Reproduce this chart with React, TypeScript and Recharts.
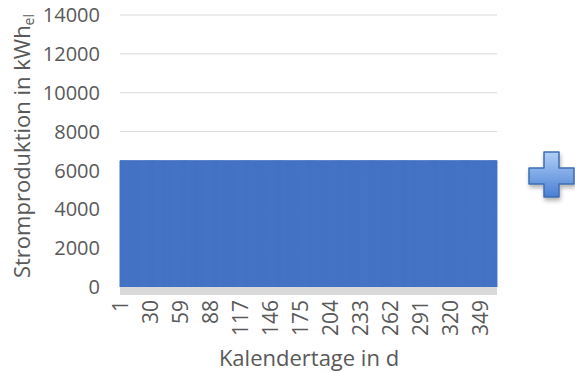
import React from 'react';
import { BarChart, Bar, XAxis, YAxis, CartesianGrid } from 'recharts';

// Daily electricity output over one calendar year (flat production level)
const dayCount = 365;
const dailyOutputKWh = 6500;
const calendarDays: number[] = Array.from({ length: dayCount }, (_, i) => i + 1);
const dayTicks: number[] = [1, 30, 59, 88, 117, 146, 175, 204, 233, 262, 291, 320, 349];
const outputTicks: number[] = [0, 2000, 4000, 6000, 8000, 10000, 12000, 14000];

const chartData = calendarDays.map((day) => ({ day, output: dailyOutputKWh }));

const FONT = '"Open Sans", "DejaVu Sans", sans-serif';
const TEXT = '#595959';
const BAR = '#4472c4';

const DayTick = (props: any) => {
  const { x, y, payload } = props;
  const ty = y + 11;
  return (
    <text
      x={x}
      y={ty}
      transform={`rotate(-90 ${x} ${ty})`}
      textAnchor="end"
      dy="0.36em"
      fill={TEXT}
      fontSize={21}
      fontFamily={FONT}
    >
      {payload.value}
    </text>
  );
};

export default function App() {
  return (
    <div style={{ position: 'absolute', left: 0, top: 0, width: 575, height: 373, background: '#fff' }}>
      <BarChart
        width={575}
        height={373}
        data={chartData}
        margin={{ top: 15, right: 78, left: 0, bottom: 0 }}
        barCategoryGap={0}
        barGap={0}
      >
        <CartesianGrid vertical={false} stroke="#d9d9d9" strokeWidth={1} />
        <XAxis
          dataKey="day"
          ticks={dayTicks}
          interval={0}
          height={86}
          tickSize={0}
          tickLine={false}
          tick={<DayTick />}
          axisLine={{ stroke: '#d9d9d9', strokeWidth: 8, transform: 'translate(0,4)' }}
        />
        <YAxis
          width={120}
          domain={[0, 14000]}
          ticks={outputTicks}
          interval={0}
          axisLine={false}
          tickLine={false}
          tickSize={0}
          tickMargin={20}
          tick={{ fill: TEXT, fontSize: 20, fontFamily: FONT }}
        />
        <Bar
          dataKey="output"
          fill={BAR}
          stroke={BAR}
          strokeWidth={1}
          isAnimationActive={false}
        />
      </BarChart>
      <svg
        width={575}
        height={373}
        style={{ position: 'absolute', left: 0, top: 0, pointerEvents: 'none' }}
      >
        <defs>
          <linearGradient id="plusFill" x1="0" y1="0" x2="0" y2="1">
            <stop offset="0%" stopColor="#b0cff7" />
            <stop offset="100%" stopColor="#4a7fd4" />
          </linearGradient>
          <filter id="plusShadow" x="-30%" y="-30%" width="160%" height="160%">
            <feGaussianBlur in="SourceAlpha" stdDeviation="2" />
            <feOffset dx="1" dy="3" result="off" />
            <feComponentTransfer>
              <feFuncA type="linear" slope="0.3" />
            </feComponentTransfer>
            <feMerge>
              <feMergeNode />
              <feMergeNode in="SourceGraphic" />
            </feMerge>
          </filter>
        </defs>
        <text
          x={30}
          y={146}
          transform="rotate(-90 30 146)"
          textAnchor="middle"
          fill={TEXT}
          fontSize={22}
          fontFamily={FONT}
        >
          Stromproduktion in kWh
          <tspan fontSize={14} dy={4}>el</tspan>
        </text>
        <text x={309} y={366} textAnchor="middle" fill={TEXT} fontSize={22} fontFamily={FONT}>
          Kalendertage in d
        </text>
        <path
          d="M544 152 H559 V168 H574 V184 H559 V197 H544 V184 H529 V168 H544 Z"
          fill="url(#plusFill)"
          stroke="#3d6db3"
          strokeWidth={1.5}
          strokeLinejoin="round"
          filter="url(#plusShadow)"
        />
      </svg>
    </div>
  );
}
